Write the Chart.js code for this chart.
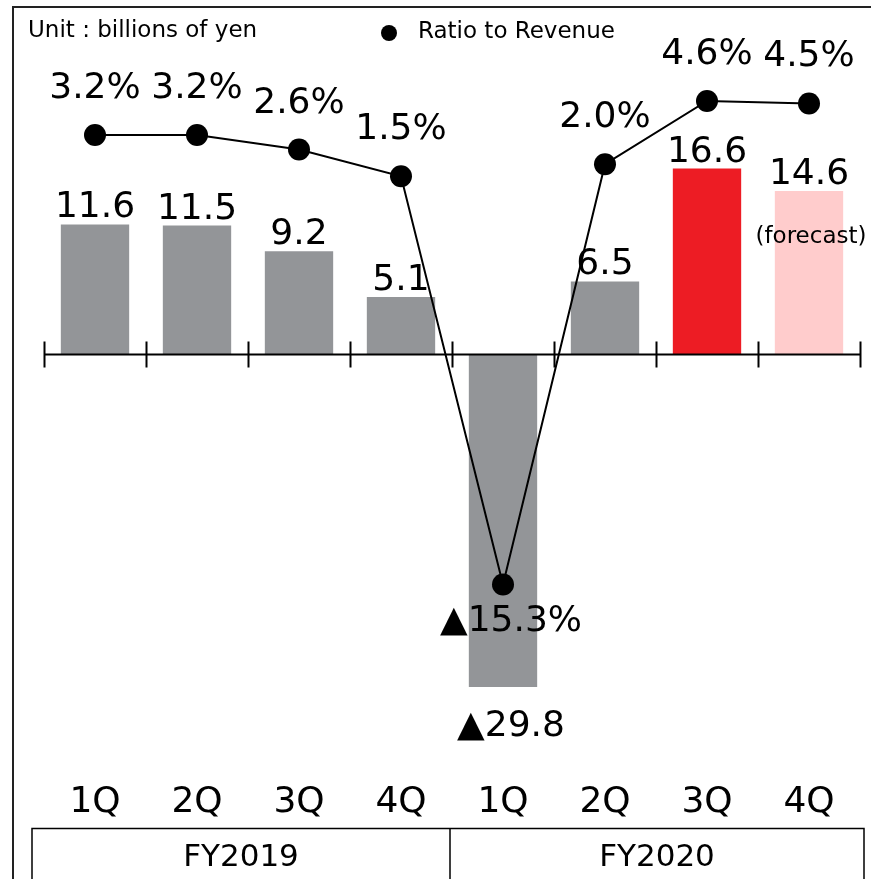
<!DOCTYPE html>
<html>
<head>
<meta charset="utf-8">
<script src="https://cdn.jsdelivr.net/npm/chart.js@4"></script>
<style>
  html, body { margin: 0; padding: 0; background: #fff; }
  canvas { display: block; }
</style>
</head>
<body>
<canvas id="grafico" width="871" height="879"></canvas>
<script>
// Data
const quarters = ['1Q', '2Q', '3Q', '4Q', '1Q', '2Q', '3Q', '4Q'];
const fiscalYears = ['FY2019', 'FY2020'];
const quartersPerYear = 4;
const operatingIncome = [11.6, 11.5, 9.2, 5.1, -29.8, 6.5, 16.6, 14.6];
const ratioToRevenue = [3.2, 3.2, 2.6, 1.5, -15.3, 2.0, 4.6, 4.5];
const forecastIndex = 7;

const barColors = ['#939598', '#939598', '#939598', '#939598', '#939598', '#939598', '#ed1c24', '#ffcccc'];
const FONT = "'DejaVu Sans', Verdana, sans-serif";

// Negative numbers are written with a triangle
function fmt(v, suffix) {
  const s = Math.abs(v).toFixed(1) + suffix;
  return v < 0 ? '\u25B2' + s : s;
}

// Frame, zero axis, value labels, legend and the fiscal year row
const decorations = {
  id: 'decorations',
  afterDatasetsDraw(chart) {
    const ctx = chart.ctx;
    const area = chart.chartArea;
    const y = chart.scales.y;
    const n = quarters.length;
    const step = (area.right - area.left) / n;

    ctx.save();
    ctx.fillStyle = '#000';

    // outer frame (top and left only)
    ctx.lineWidth = 2;
    ctx.strokeStyle = '#222';
    ctx.beginPath();
    ctx.moveTo(13, chart.height);
    ctx.lineTo(13, 7);
    ctx.lineTo(chart.width, 7);
    ctx.stroke();

    // zero line with category ticks
    ctx.strokeStyle = '#000';
    const y0 = Math.round(y.getPixelForValue(0)) + 0.5;
    ctx.lineWidth = 2;
    ctx.beginPath();
    ctx.moveTo(area.left, y0);
    ctx.lineTo(area.right, y0);
    for (let i = 0; i <= n; i++) {
      const tx = Math.round(area.left + i * step) + 0.5;
      ctx.moveTo(tx, y0 - 13);
      ctx.lineTo(tx, y0 + 13);
    }
    ctx.stroke();

    // bar values
    ctx.textAlign = 'center';
    ctx.font = '36px ' + FONT;
    chart.getDatasetMeta(1).data.forEach((bar, i) => {
      const v = operatingIncome[i];
      if (v >= 0) {
        ctx.textBaseline = 'alphabetic';
        ctx.fillText(fmt(v, ''), bar.x, bar.y - 7);
      } else {
        ctx.textBaseline = 'middle';
        ctx.fillText(fmt(v, ''), bar.x + 8, bar.y + 40);
      }
      if (i === forecastIndex) {
        ctx.font = '23px ' + FONT;
        ctx.textBaseline = 'middle';
        ctx.fillText('(forecast)', bar.x + 2, bar.y + 46);
        ctx.font = '36px ' + FONT;
      }
    });

    // ratio values
    chart.getDatasetMeta(0).data.forEach((pt, i) => {
      const v = ratioToRevenue[i];
      if (v >= 0) {
        ctx.textBaseline = 'alphabetic';
        ctx.fillText(fmt(v, '%'), pt.x, pt.y - 37);
      } else {
        ctx.textBaseline = 'middle';
        ctx.fillText(fmt(v, '%'), pt.x + 8, pt.y + 37);
      }
    });

    // legend
    ctx.font = '23px ' + FONT;
    ctx.textAlign = 'left';
    ctx.textBaseline = 'middle';
    ctx.fillText('Unit : billions of yen', 28, 31);
    ctx.beginPath();
    ctx.arc(389, 33, 8, 0, Math.PI * 2);
    ctx.fill();
    ctx.fillText('Ratio to Revenue', 418, 32);

    // fiscal year row
    const boxL = 32, boxR = 864, boxT = 828.5;
    ctx.lineWidth = 1.5;
    ctx.beginPath();
    ctx.moveTo(boxL, chart.height);
    ctx.lineTo(boxL, boxT);
    ctx.lineTo(boxR, boxT);
    ctx.lineTo(boxR, chart.height);
    const mid = Math.round(area.left + quartersPerYear * step) - 2;
    ctx.moveTo(mid, boxT);
    ctx.lineTo(mid, chart.height);
    ctx.stroke();
    ctx.font = '31px ' + FONT;
    ctx.textAlign = 'center';
    ctx.fillText(fiscalYears[0], (boxL + mid) / 2, 858);
    ctx.fillText(fiscalYears[1], (mid + boxR) / 2, 858);
    ctx.restore();
  }
};

const ctx = document.getElementById('grafico').getContext('2d');
const chart = new Chart(ctx, {
  data: {
    labels: quarters,
    datasets: [
      {
        type: 'line',
        label: 'Ratio to Revenue',
        data: ratioToRevenue,
        yAxisID: 'y1',
        borderColor: '#000',
        borderWidth: 2,
        backgroundColor: '#000',
        pointRadius: 11,
        pointBorderWidth: 0,
        tension: 0,
        order: 0
      },
      {
        type: 'bar',
        label: 'Operating income',
        data: operatingIncome,
        yAxisID: 'y',
        backgroundColor: barColors,
        borderWidth: 0,
        categoryPercentage: 1,
        barPercentage: 0.67,
        order: 1
      }
    ]
  },
  options: {
    responsive: false,
    animation: false,
    layout: { padding: { left: 44, right: 11, top: 40, bottom: 51 } },
    plugins: {
      legend: { display: false },
      tooltip: { enabled: false }
    },
    scales: {
      x: {
        grid: { display: false, drawTicks: false },
        border: { display: false },
        ticks: { color: '#000', padding: 4, font: { family: FONT, size: 36 } }
      },
      y: { display: false, min: -37.85, max: 28.11 },
      y1: { display: false, min: -23.21, max: 7.11 }
    }
  },
  plugins: [decorations]
});
</script>
</body>
</html>
